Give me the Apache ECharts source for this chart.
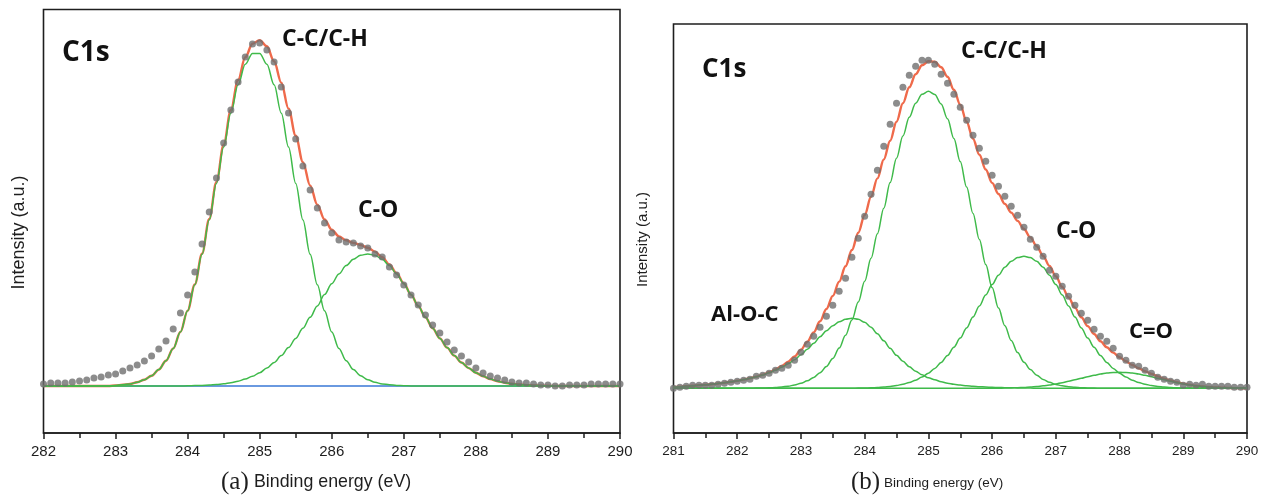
<!DOCTYPE html>
<html>
<head>
<meta charset="utf-8">
<script src="https://cdn.jsdelivr.net/npm/echarts@6/dist/echarts.min.js"></script>
<style>
  html, body { margin: 0; padding: 0; background: #ffffff; }
  #chart { width: 1265px; height: 497px; }
</style>
</head>
<body>
<div id="chart"></div>
<script>
// ---------- (a) C1s spectrum, binding energy 282–290 eV, 0.1 eV steps ----------
const energyA = [
  282.0,282.1,282.2,282.3,282.4,282.5,282.6,282.7,282.8,282.9,
  283.0,283.1,283.2,283.3,283.4,283.5,283.6,283.7,283.8,283.9,
  284.0,284.1,284.2,284.3,284.4,284.5,284.6,284.7,284.8,284.9,
  285.0,285.1,285.2,285.3,285.4,285.5,285.6,285.7,285.8,285.9,
  286.0,286.1,286.2,286.3,286.4,286.5,286.6,286.7,286.8,286.9,
  287.0,287.1,287.2,287.3,287.4,287.5,287.6,287.7,287.8,287.9,
  288.0,288.1,288.2,288.3,288.4,288.5,288.6,288.7,288.8,288.9,
  289.0,289.1,289.2,289.3,289.4,289.5,289.6,289.7,289.8,289.9,
  290.0
];
// measured intensity (a.u., background subtracted)
const measuredA = [
  2,3,3,3,4,5,6,8,9,11,
  12,15,18,21,25,30,37,45,57,73,
  91,114,142,174,208,243,276,304,329,342,
  343,336,324,299,273,247,220,196,178,163,
  153,146,144,143,140,138,132,129,119,111,
  101,91,81,71,61,53,44,36,30,24,
  18,13,10,8,6,4,3,3,2,1,
  1,0,0,1,1,1,2,2,2,2,
  2
];
// fitted component C-C/C-H
const ccA = [
  0,0,0,0,0,0,0,0,0,0,
  0.6,1.2,2.1,3.7,6.3,10.3,16.4,25.3,37.5,54,
  75.2,101.2,131.8,166.1,202.6,239,272.8,301.2,321.8,332.6,
  332.6,321.8,301.2,272.8,239,202.6,166.1,131.8,101.2,75.2,
  54,37.5,25.3,16.4,10.3,6.3,3.7,2.1,1.2,0.6,
  0.3,0,0,0,0,0,0,0,0,0,
  0,0,0,0,0,0,0,0,0,0,
  0,0,0,0,0,0,0,0,0,0,
  0
];
// fitted component C-O
const coA = [
  0,0,0,0,0,0,0,0,0,0,
  0,0,0,0,0,0,0,0,0,0,
  0.2,0.4,0.6,0.9,1.5,2.2,3.3,4.8,6.9,9.7,
  13.3,17.9,23.5,30.4,38.4,47.6,57.8,68.7,80.1,91.4,
  102.3,112.1,120.4,126.7,130.7,132,130.7,126.7,120.4,112.1,
  102.3,91.4,80.1,68.7,57.8,47.6,38.4,30.4,23.5,17.9,
  13.3,9.7,6.9,4.8,3.3,2.2,1.5,0.9,0.6,0.4,
  0.2,0,0,0,0,0,0,0,0,0,
  0
];
// fit envelope
const envelopeA = [
  0,0,0,0,0,0,0,0,0,0,
  0.6,1.2,2.1,3.7,6.3,10.3,16.4,25.3,37.5,54,
  75.4,101.6,132.4,167.0,204.1,241.2,276.1,306.0,328.7,342.3,
  345.9,339.7,324.7,303.2,277.4,250.2,223.9,200.5,181.3,166.6,
  156.3,149.6,145.7,143.1,141.0,138.3,134.4,128.8,121.6,112.7,
  102.6,91.4,80.1,68.7,57.8,47.6,38.4,30.4,23.5,17.9,
  13.3,9.7,6.9,4.8,3.3,2.2,1.5,0.9,0.6,0.4,
  0.2,0,0,0,0,0,0,0,0,0,
  0
];

// ---------- (b) C1s spectrum, binding energy 281–290 eV, 0.1 eV steps ----------
const energyB = [
  281.0,281.1,281.2,281.3,281.4,281.5,281.6,281.7,281.8,281.9,
  282.0,282.1,282.2,282.3,282.4,282.5,282.6,282.7,282.8,282.9,
  283.0,283.1,283.2,283.3,283.4,283.5,283.6,283.7,283.8,283.9,
  284.0,284.1,284.2,284.3,284.4,284.5,284.6,284.7,284.8,284.9,
  285.0,285.1,285.2,285.3,285.4,285.5,285.6,285.7,285.8,285.9,
  286.0,286.1,286.2,286.3,286.4,286.5,286.6,286.7,286.8,286.9,
  287.0,287.1,287.2,287.3,287.4,287.5,287.6,287.7,287.8,287.9,
  288.0,288.1,288.2,288.3,288.4,288.5,288.6,288.7,288.8,288.9,
  289.0,289.1,289.2,289.3,289.4,289.5,289.6,289.7,289.8,289.9,
  290.0
];
const measuredB = [
  0,1,2,3,3,3,3,4,5,6,
  7,8,9,12,13,15,18,20,23,28,
  36,44,52,61,72,83,97,110,131,150,
  172,194,218,242,264,285,301,313,322,328,
  328,324,314,305,294,281,268,253,240,227,
  213,202,192,182,173,161,149,141,132,118,
  112,102,92,83,75,68,59,52,47,40,
  32,28,23,22,18,15,11,9,7,6,
  3,4,3,4,2,2,2,2,1,1,
  1
];
// fitted component Al-O-C
const aloB = [
  1.2,1.6,2,2.5,3,3.5,4.1,4.8,5.6,6.5,
  7.5,8.7,10,11.5,13.3,15.5,18,21,24.5,28.5,
  33.5,39,45,51.5,57.5,62.5,66.5,69,70,69,
  66,61,54.5,47.5,40,33,27,21.5,17,13.5,
  10.5,8.5,6.5,5,4,3.2,2.5,2,1.6,1.3,
  1,0.8,0.6,0.5,0.4,0.3,0.2,0.1,0,0,
  0,0,0,0,0,0,0,0,0,0,
  0,0,0,0,0,0,0,0,0,0,
  0,0,0,0,0,0,0,0,0,0,
  0
];
// fitted component C-C/C-H
const ccB = [
  0,0,0,0,0,0,0,0,0,0,
  0,0,0,0.2,0.3,0.5,0.8,1.3,2.1,3.3,
  5.0,7.5,10.9,15.6,21.8,29.9,40.2,53.0,68.3,86.4,
  107.0,130.0,154.6,180.1,205.7,230.1,252.2,271.0,285.1,294.0,
  297,293.8,284.4,269.5,249.8,226.7,201.2,174.9,148.7,123.7,
  100.7,80.3,62.6,47.8,35.7,26.1,18.7,13.1,8.9,6.0,
  3.9,2.5,1.6,1.0,0.6,0.3,0.2,0,0,0,
  0,0,0,0,0,0,0,0,0,0,
  0,0,0,0,0,0,0,0,0,0,
  0
];
// fitted component C-O
const coB = [
  0,0,0,0,0,0,0,0,0,0,
  0,0,0,0,0,0,0,0,0,0,
  0,0,0,0,0,0,0,0,0,0.2,
  0.3,0.5,0.8,1.2,1.9,2.8,4.1,5.8,8.1,11.2,
  15.1,19.9,25.9,32.9,41.1,50.3,60.4,71.2,82.3,93.3,
  103.7,113.1,121.0,127.0,130.7,132,130.7,127.0,121.0,113.1,
  103.7,93.3,82.3,71.2,60.4,50.3,41.1,32.9,25.9,19.9,
  15.1,11.2,8.1,5.8,4.1,2.8,1.9,1.2,0.8,0.5,
  0.3,0.2,0,0,0,0,0,0,0,0,
  0
];
// fitted component C=O
const c2oB = [
  0,0,0,0,0,0,0,0,0,0,
  0,0,0,0,0,0,0,0,0,0,
  0,0,0,0,0,0,0,0,0,0,
  0,0,0,0,0,0,0,0,0,0,
  0,0,0,0,0,0,0,0,0,0,
  0,0.1,0.2,0.4,0.6,0.9,1.3,1.8,2.5,3.3,
  4.4,5.6,7.0,8.5,10.0,11.6,13.0,14.2,15.2,15.8,
  16,15.8,15.2,14.2,13.0,11.6,10.0,8.5,7.0,5.6,
  4.4,3.3,2.5,1.8,1.3,0.9,0.6,0.4,0.2,0.1,
  0.1
];
// fit envelope
const envelopeB = [
  1.2,1.6,2.0,2.5,3.0,3.5,4.1,4.8,5.6,6.5,
  7.5,8.7,10.0,11.7,13.6,16.0,18.8,22.3,26.6,31.8,
  38.5,46.5,55.9,67.1,79.3,92.4,106.7,122.0,138.3,155.6,
  173.3,191.5,209.9,228.8,247.6,266.5,285.0,301.0,314.0,323.0,
  327.0,326.5,321.0,311.5,298.5,283.5,266.5,249.5,233.5,218.8,
  205.4,194.3,184.4,175.7,167.4,159.3,150.9,142.0,132.4,122.4,
  112.0,101.4,90.9,80.7,71.0,62.2,54.3,47.1,41.1,35.7,
  31.1,27.0,23.3,20.0,17.1,14.4,11.9,9.7,7.8,6.1,
  4.7,3.5,2.5,1.8,1.3,0.9,0.6,0.4,0.2,0.1,
  0.1
];

// axis ranges
const xRangeA = [282, 290];
const xRangeB = [281, 290];
const yRangeA = [-47, 376.5];
const yRangeB = [-44.7, 364.3];

const COLOR_DOT = '#6f6f6f';
const COLOR_FIT = '#ef6a4b';
const COLOR_PEAK = '#3fba4a';
const COLOR_BASE = '#3a78d6';
const INK = '#1e1e1e';

const pairs = (xs, ys) => xs.map((x, i) => [x, ys[i]]);

function xAxisFor(gridIndex, range, fontSize) {
  return {
    type: 'value', gridIndex, min: range[0], max: range[1], interval: 1,
    axisLine: { show: true, onZero: false, lineStyle: { color: INK, width: 1.6 } },
    axisTick: { show: true, inside: false, length: 6, lineStyle: { color: INK, width: 1.5 } },
    minorTick: { show: true, splitNumber: 2, length: 5, lineStyle: { color: INK, width: 1.5 } },
    splitLine: { show: false },
    axisLabel: { fontFamily: 'Liberation Sans, Arial, sans-serif', fontSize, color: INK, margin: 11 }
  };
}
function yAxisFor(gridIndex, range) {
  return {
    type: 'value', gridIndex, min: range[0], max: range[1],
    axisLine: { show: false }, axisTick: { show: false }, axisLabel: { show: false },
    splitLine: { show: false }
  };
}
function curve(name, idx, xs, ys, color, width, z) {
  return {
    name, type: 'line', xAxisIndex: idx, yAxisIndex: idx, data: pairs(xs, ys),
    showSymbol: false, smooth: 0.35, smoothMonotone: 'x', silent: true, z,
    lineStyle: { color, width }
  };
}
function dots(name, idx, xs, ys) {
  return {
    name, type: 'scatter', xAxisIndex: idx, yAxisIndex: idx, data: pairs(xs, ys),
    symbol: 'circle', symbolSize: 7, silent: true, z: 10,
    itemStyle: { color: COLOR_DOT }
  };
}
function label(text, x, y, size, extra) {
  return Object.assign({
    type: 'text', x, y, silent: true,
    style: {
      text, fill: '#111', fontFamily: 'Open Sans, Lato, sans-serif', fontWeight: 'bold',
      fontSize: size, align: 'left', verticalAlign: 'middle'
    }
  }, extra || {});
}

const chart = echarts.init(document.getElementById('chart'), null, { renderer: 'canvas' });
chart.setOption({
  backgroundColor: '#ffffff',
  animation: false,
  grid: [
    { left: 43.5, top: 9.5, width: 576.5, height: 423.5, show: true, borderColor: INK, borderWidth: 1.6, backgroundColor: 'transparent' },
    { left: 673.5, top: 24, width: 573.5, height: 409, show: true, borderColor: INK, borderWidth: 1.6, backgroundColor: 'transparent' }
  ],
  xAxis: [ xAxisFor(0, xRangeA, 15), xAxisFor(1, xRangeB, 13.5) ],
  yAxis: [ yAxisFor(0, yRangeA), yAxisFor(1, yRangeB) ],
  series: [
    curve('background', 0, energyA, energyA.map(() => 0), COLOR_BASE, 1.5, 2),
    curve('fit', 0, energyA, envelopeA, COLOR_FIT, 2.4, 3),
    curve('C-C/C-H', 0, energyA, ccA, COLOR_PEAK, 1.5, 4),
    curve('C-O', 0, energyA, coA, COLOR_PEAK, 1.5, 4),
    dots('C1s', 0, energyA, measuredA),

    curve('fit', 1, energyB, envelopeB, COLOR_FIT, 2.4, 3),
    curve('Al-O-C', 1, energyB, aloB, COLOR_PEAK, 1.5, 4),
    curve('C-C/C-H', 1, energyB, ccB, COLOR_PEAK, 1.5, 4),
    curve('C-O', 1, energyB, coB, COLOR_PEAK, 1.5, 4),
    curve('C=O', 1, energyB, c2oB, COLOR_PEAK, 1.5, 4),
    dots('C1s', 1, energyB, measuredB)
  ],
  graphic: [
    // panel (a) annotations
    label('C1s', 62, 53, 28),
    label('C-C/C-H', 282, 39.5, 23),
    label('C-O', 358, 210.5, 23),
    // panel (b) annotations
    label('C1s', 702, 70, 26),
    label('C-C/C-H', 961, 51.5, 23),
    label('C-O', 1056, 231, 23),
    label('Al-O-C', 711, 314.5, 22),
    label('C=O', 1129, 331.5, 22),
    // axis titles
    { type: 'text', x: 19, y: 232.5, rotation: Math.PI / 2, silent: true,
      style: { text: 'Intensity (a.u.)', fill: INK, fontFamily: 'Liberation Sans, Arial, sans-serif', fontSize: 18, align: 'center', verticalAlign: 'middle' } },
    { type: 'text', x: 643, y: 239.5, rotation: Math.PI / 2, silent: true,
      style: { text: 'Intensity (a.u.)', fill: INK, fontFamily: 'Liberation Sans, Arial, sans-serif', fontSize: 15, align: 'center', verticalAlign: 'middle' } },
    { type: 'text', x: 221, y: 482, silent: true,
      style: { text: '(a)', fill: INK, fontFamily: 'Liberation Serif, Times New Roman, serif', fontSize: 25, align: 'left', verticalAlign: 'middle' } },
    { type: 'text', x: 254, y: 482.5, silent: true,
      style: { text: 'Binding energy (eV)', fill: INK, fontFamily: 'Liberation Sans, Arial, sans-serif', fontSize: 17.8, align: 'left', verticalAlign: 'middle' } },
    { type: 'text', x: 851, y: 482, silent: true,
      style: { text: '(b)', fill: INK, fontFamily: 'Liberation Serif, Times New Roman, serif', fontSize: 25, align: 'left', verticalAlign: 'middle' } },
    { type: 'text', x: 884, y: 483, silent: true,
      style: { text: 'Binding energy (eV)', fill: INK, fontFamily: 'Liberation Sans, Arial, sans-serif', fontSize: 13.5, align: 'left', verticalAlign: 'middle' } }
  ]
});
</script>
</body>
</html>
